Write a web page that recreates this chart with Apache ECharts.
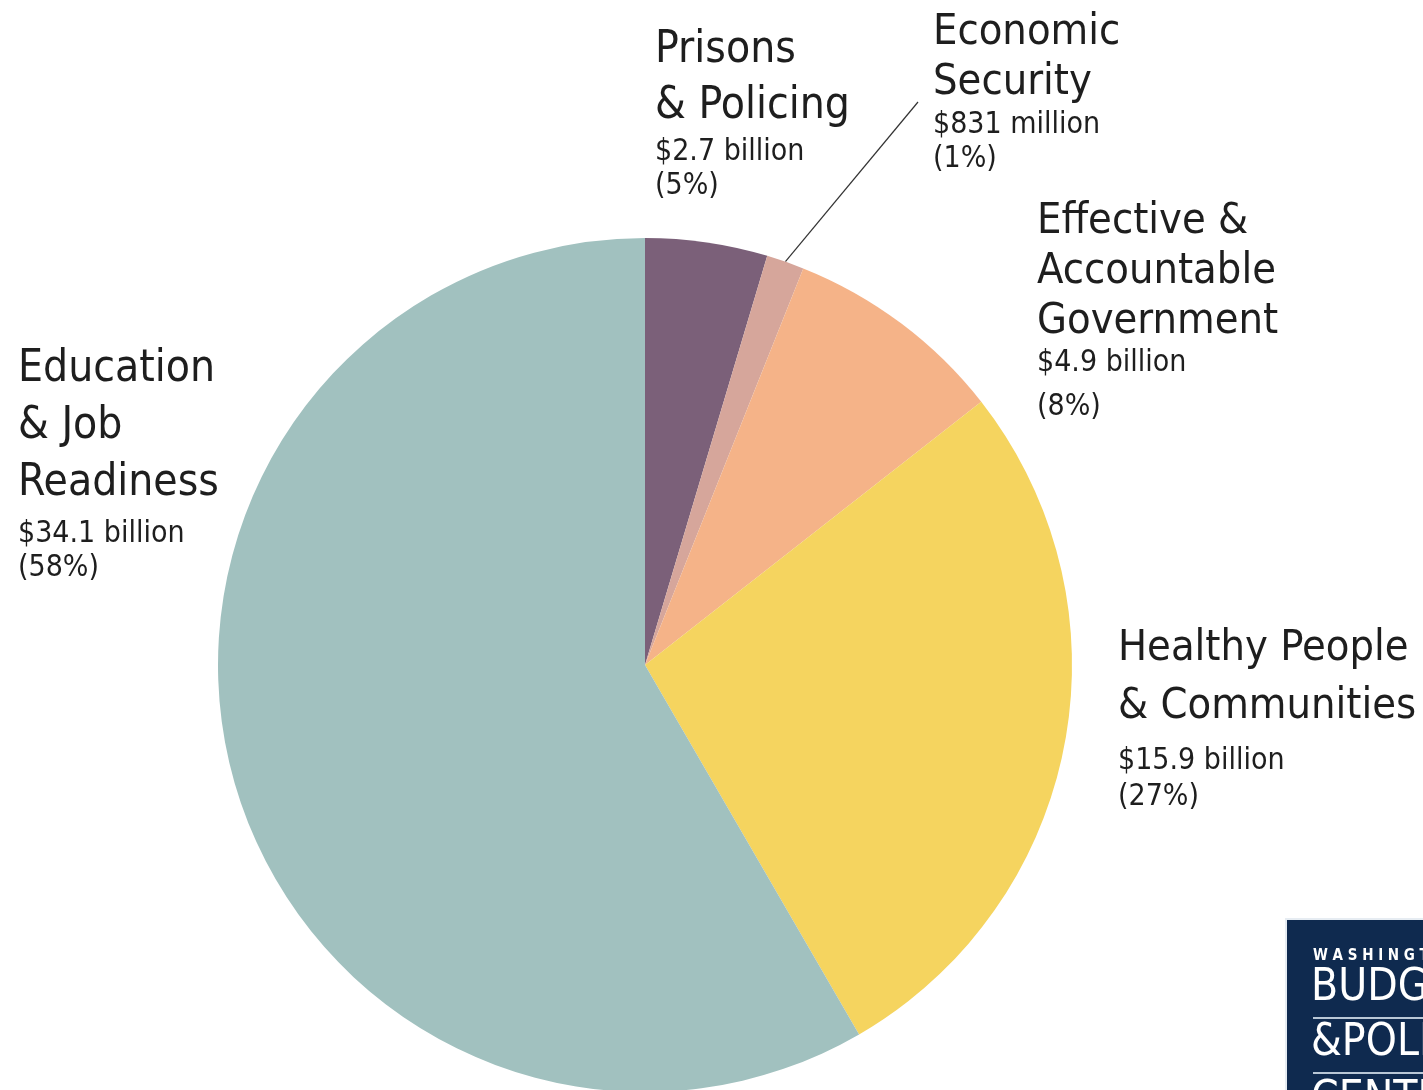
<!DOCTYPE html>
<html>
<head>
<meta charset="utf-8">
<script src="https://cdn.jsdelivr.net/npm/echarts@6/dist/echarts.min.js"></script>
<style>
html,body{margin:0;padding:0;background:#fff;}
#chart{width:1423px;height:1090px;}
</style>
</head>
<body>
<div id="chart"></div>
<script>
// ---- data ----
var categories = ['Prisons\n& Policing', 'Economic\nSecurity', 'Effective &\nAccountable\nGovernment', 'Healthy People\n& Communities', 'Education\n& Job\nReadiness'];
var valuesBillion = [2.7, 0.831, 4.9, 15.9, 34.1];
var amountLabels = ['$2.7 billion', '$831 million', '$4.9 billion', '$15.9 billion', '$34.1 billion'];
var percentLabels = ['(5%)', '(1%)', '(8%)', '(27%)', '(58%)'];
var sliceColors = ['#7b6079', '#d6a69b', '#f5b388', '#f5d45f', '#a1c1bf'];

// ---- label layout: [x, top, nameSize, nameLineHeight, valueSize, amountLineHeight, percentLineHeight] ----
var labelLayouts = [
  [655, 23, 44, 56, 30, 34, 34],
  [933, 8, 43, 50, 30, 34, 34],
  [1037, 197, 43, 50, 30, 32, 56],
  [1118, 620, 43, 58, 30, 50, 22],
  [18, 341, 44, 57, 30, 45, 23]
];
var FONT = '"DejaVu Sans Condensed", "Liberation Sans", sans-serif';

var chart = echarts.init(document.getElementById('chart'), null, {renderer: 'canvas'});

var rich = {};
labelLayouts.forEach(function (l, i) {
  rich['n' + i] = {fontFamily: FONT, fontSize: l[2], lineHeight: l[3], color: '#1e1e1e'};
  rich['a' + i] = {fontFamily: FONT, fontSize: l[4], lineHeight: l[5], color: '#1e1e1e'};
  rich['p' + i] = {fontFamily: FONT, fontSize: l[4], lineHeight: l[6], color: '#1e1e1e'};
});

var pieData = categories.map(function (c, i) {
  return {
    name: c,
    value: valuesBillion[i],
    itemStyle: {color: sliceColors[i]},
    labelLine: {show: i === 1, lineStyle: {color: '#333333', width: 1.2}}
  };
});

var option = {
  animation: false,
  backgroundColor: '#ffffff',
  series: [{
    type: 'pie',
    center: [645, 665],
    radius: 427,
    startAngle: 90,
    clockwise: true,
    silent: true,
    data: pieData,
    itemStyle: {borderWidth: 0},
    label: {
      show: true,
      position: 'outside',
      align: 'left',
      width: 400,
      overflow: 'none',
      fontFamily: FONT,
      formatter: function (p) {
        var i = p.dataIndex;
        return '{n' + i + '|' + categories[i] + '}\n{a' + i + '|' + amountLabels[i] + '}\n{p' + i + '|' + percentLabels[i] + '}';
      },
      rich: rich
    },
    labelLine: {show: false, length: 10, length2: 10, smooth: false},
    labelLayout: function (params) {
      var i = params.dataIndex;
      var l = labelLayouts[i];
      var res = {x: l[0], y: l[1], align: 'left', verticalAlign: 'top'};
      if (i === 1 && params.labelLinePoints) {
        res.labelLinePoints = [params.labelLinePoints[0], [918, 102]];
      }
      return res;
    }
  }],
  graphic: [{
    type: 'group',
    left: 1285,
    top: 918,
    children: [
      {type: 'rect', shape: {x: 0, y: 0, width: 160, height: 180}, style: {fill: '#0f2a4f', stroke: '#e6ecf2', lineWidth: 2}},
      {type: 'text', x: 27, y: 37, style: {text: 'W A S H I N G T O N', fill: '#ffffff', font: 'bold 15px "DejaVu Sans Condensed", sans-serif', verticalAlign: 'middle'}},
      {type: 'text', x: 25, y: 70, style: {text: 'BUDGET', fill: '#ffffff', font: '44px "DejaVu Sans Condensed", sans-serif', verticalAlign: 'middle'}},
      {type: 'line', shape: {x1: 27, y1: 99, x2: 170, y2: 99}, style: {stroke: '#b9c7d6', lineWidth: 2}},
      {type: 'text', x: 25, y: 125, style: {text: '&POLICY', fill: '#ffffff', font: '44px "DejaVu Sans Condensed", sans-serif', verticalAlign: 'middle'}},
      {type: 'line', shape: {x1: 27, y1: 154, x2: 170, y2: 154}, style: {stroke: '#b9c7d6', lineWidth: 2}},
      {type: 'text', x: 25, y: 182, style: {text: 'CENTER', fill: '#ffffff', font: '44px "DejaVu Sans Condensed", sans-serif', verticalAlign: 'middle'}}
    ]
  }]
};
chart.setOption(option);
</script>
</body>
</html>
